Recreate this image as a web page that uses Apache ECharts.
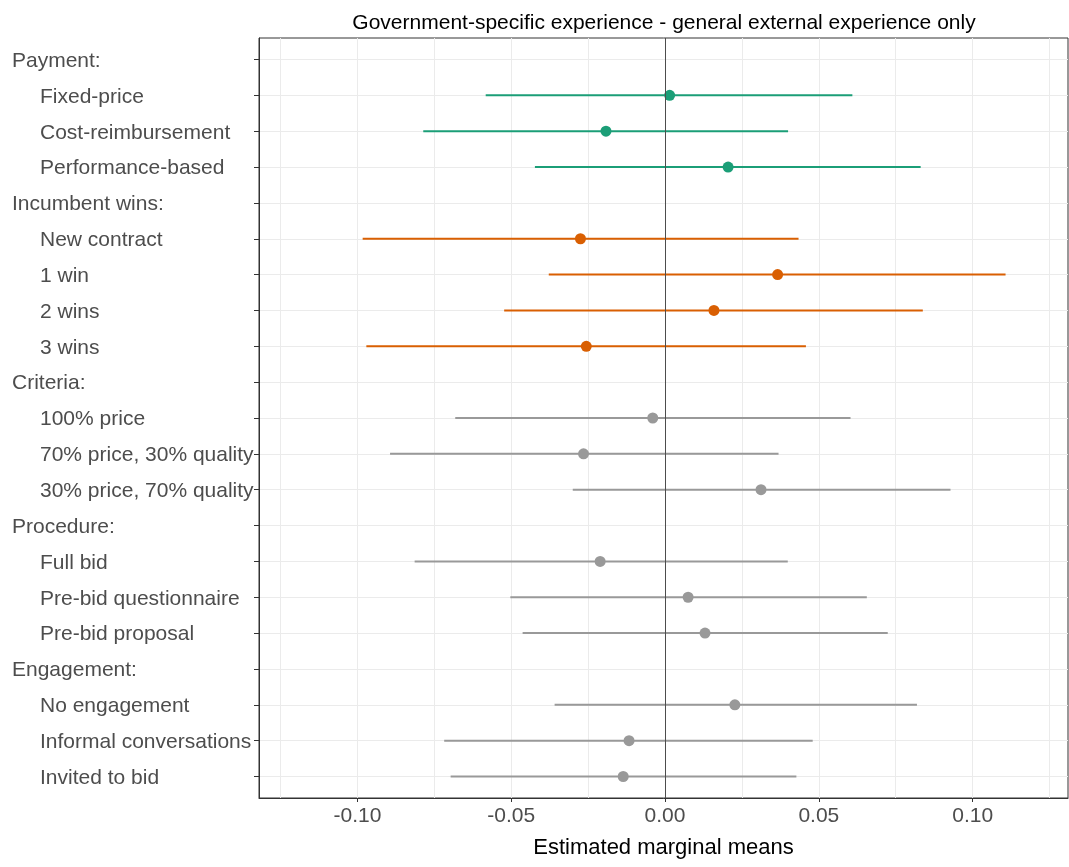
<!DOCTYPE html>
<html>
<head>
<meta charset="utf-8">
<script src="https://cdn.jsdelivr.net/npm/echarts@6/dist/echarts.min.js"></script>
<style>html,body{margin:0;padding:0;background:#fff}#chart{width:1069px;height:867px}</style>
</head>
<body>
<div id="chart"></div>
<script>
const categories = ['Payment:', 'Fixed-price', 'Cost-reimbursement', 'Performance-based',
  'Incumbent wins:', 'New contract', '1 win', '2 wins', '3 wins',
  'Criteria:', '100% price', '70% price, 30% quality', '30% price, 70% quality',
  'Procedure:', 'Full bid', 'Pre-bid questionnaire', 'Pre-bid proposal',
  'Engagement:', 'No engagement', 'Informal conversations', 'Invited to bid'];
const isHeader = [true, false, false, false, true, false, false, false, false, true, false, false, false, true, false, false, false, true, false, false, false];
const groups = ['Payment', 'Payment', 'Payment', 'Payment', 'Incumbent', 'Incumbent', 'Incumbent', 'Incumbent', 'Incumbent',
  'Criteria', 'Criteria', 'Criteria', 'Criteria', 'Procedure', 'Procedure', 'Procedure', 'Procedure',
  'Engagement', 'Engagement', 'Engagement', 'Engagement'];
const estimate = [null, 0.0015, -0.0192, 0.0205, null, -0.0275, 0.0366, 0.0159, -0.0256, null, -0.0040, -0.0265, 0.0312, null, -0.0211, 0.0075, 0.0130, null, 0.0227, -0.0117, -0.0136];
const lower = [null, -0.0583, -0.0786, -0.0423, null, -0.0983, -0.0378, -0.0523, -0.0971, null, -0.0682, -0.0894, -0.0300, null, -0.0814, -0.0503, -0.0463, null, -0.0359, -0.0718, -0.0697];
const upper = [null, 0.0609, 0.0400, 0.0831, null, 0.0434, 0.1107, 0.0838, 0.0458, null, 0.0603, 0.0369, 0.0928, null, 0.0399, 0.0656, 0.0724, null, 0.0819, 0.0480, 0.0427];
const xTickLabels = [-0.10, -0.05, 0.00, 0.05, 0.10];
const xGrid = [-0.125, -0.10, -0.075, -0.05, -0.025, 0, 0.025, 0.05, 0.075, 0.10, 0.125];
const groupColors = { Payment: '#1b9e77', Incumbent: '#d95f02', Criteria: '#999999', Procedure: '#999999', Engagement: '#999999' };
const titleText = 'Government-specific experience - general external experience only';
const xAxisTitle = 'Estimated marginal means';

const FONT = '"Liberation Sans", Arial, sans-serif';
const rowIdx = categories.map((c, i) => i);
const X_MIN = -0.132, X_MAX = 0.131;

const series = [];
const groupNames = ['Payment', 'Incumbent', 'Criteria', 'Procedure', 'Engagement'];
groupNames.forEach(g => {
  const barData = [], ptData = [];
  categories.forEach((c, i) => {
    if (groups[i] === g && !isHeader[i]) {
      barData.push([lower[i], upper[i], i]);
      ptData.push([estimate[i], i]);
    }
  });
  const color = groupColors[g];
  series.push({
    type: 'custom',
    name: g + ' CI',
    data: barData,
    encode: { x: [0, 1], y: 2 },
    z: 3,
    silent: true,
    renderItem: function (params, api) {
      const s = api.coord([api.value(0), api.value(2)]);
      const e = api.coord([api.value(1), api.value(2)]);
      return { type: 'line', shape: { x1: s[0], y1: s[1], x2: e[0], y2: e[1] }, style: { stroke: color, lineWidth: 2 } };
    }
  });
  series.push({
    type: 'scatter',
    name: g,
    data: ptData,
    symbol: 'circle',
    symbolSize: 11,
    itemStyle: { color: color, opacity: 1 },
    z: 4,
    silent: true
  });
});
// zero reference line
series.push({
  type: 'line', data: [], silent: true, z: 2,
  markLine: { silent: true, symbol: ['none', 'none'], label: { show: false },
    lineStyle: { color: '#4d4d4d', width: 1, type: 'solid' },
    data: [{ xAxis: 0 }] }
});

const option = {
  animation: false,
  backgroundColor: '#ffffff',
  graphic: [{
    type: 'text', x: 664, y: 23, silent: true,
    style: { text: titleText, fontFamily: FONT, fontSize: 21, fill: '#000', align: 'center', verticalAlign: 'middle' }
  }],
  grid: { left: 259, right: 1, top: 38, bottom: 69, show: true, borderColor: '#333333', borderWidth: 1, containLabel: false },
  xAxis: [{
    type: 'value', min: X_MIN, max: X_MAX, position: 'bottom',
    name: xAxisTitle, nameLocation: 'middle', nameGap: 39,
    nameTextStyle: { fontFamily: FONT, fontSize: 22, color: '#000' },
    axisLine: { show: true, onZero: false, lineStyle: { color: '#333333', width: 1 } },
    axisTick: { show: true, customValues: xTickLabels, length: 4, lineStyle: { color: '#333333' } },
    axisLabel: { customValues: xTickLabels, fontFamily: FONT, fontSize: 21, color: '#4d4d4d', margin: 8,
      formatter: v => v.toFixed(2) },
    splitLine: { show: false }
  }, {
    // gridline-only axis (major + minor vertical grid)
    type: 'value', min: X_MIN, max: X_MAX, position: 'top',
    axisLine: { show: false },
    axisTick: { show: false, customValues: xGrid },
    axisLabel: { show: false },
    splitLine: { show: true, lineStyle: { color: '#ebebeb', width: 1 } }
  }],
  yAxis: {
    type: 'value', min: -0.6, max: 20.6, inverse: true,
    axisLine: { show: true, onZero: false, lineStyle: { color: '#333333', width: 1 } },
    axisTick: { show: true, customValues: rowIdx, length: 5, lineStyle: { color: '#333333' } },
    axisLabel: {
      customValues: rowIdx, align: 'left', margin: 247,
      formatter: v => {
        const i = Math.round(v);
        return isHeader[i] ? '{h|' + categories[i] + '}' : '{i|' + categories[i] + '}';
      },
      rich: {
        h: { fontFamily: FONT, fontSize: 21, color: '#4d4d4d', padding: [3, 0, 0, 0] },
        i: { fontFamily: FONT, fontSize: 21, color: '#4d4d4d', padding: [3, 0, 0, 28] }
      }
    },
    splitLine: { show: true, lineStyle: { color: '#ebebeb', width: 1 } }
  },
  series: series
};
const chart = echarts.init(document.getElementById('chart'), null, { renderer: 'canvas' });
chart.setOption(option);
</script>
</body>
</html>
